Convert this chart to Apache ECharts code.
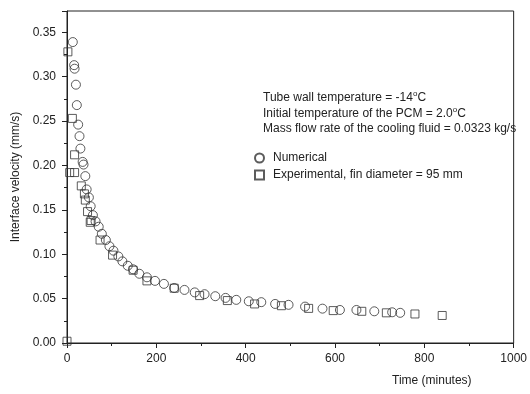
<!DOCTYPE html>
<html>
<head>
<meta charset="utf-8">
<script src="https://cdn.jsdelivr.net/npm/echarts@6/dist/echarts.min.js"></script>
<style>
  html, body { margin: 0; padding: 0; background: #fff; }
  #chart { width: 530px; height: 394px; }
</style>
</head>
<body>
<div id="chart"></div>
<script>
// Numerical results: [time (minutes), interface velocity (mm/s)]
const numericalTime = [13, 16, 17, 20, 22, 25, 28, 30, 35, 37, 41, 44, 49, 53, 58, 64, 71, 78, 87, 95,
  104, 115, 124, 136, 148, 162, 179, 197, 217, 240, 263, 286, 308, 332, 355, 379, 407, 435, 466, 496,
  533, 572, 611, 648, 688, 728, 746];
const numericalVelocity = [0.339, 0.313, 0.309, 0.291, 0.268, 0.246, 0.233, 0.219, 0.204, 0.201, 0.188, 0.173, 0.164, 0.154, 0.144, 0.137, 0.131, 0.123, 0.116, 0.109,
  0.104, 0.0975, 0.092, 0.087, 0.083, 0.078, 0.074, 0.070, 0.0666, 0.062, 0.0598, 0.057, 0.055, 0.0527, 0.0508, 0.0486, 0.047, 0.046, 0.044, 0.043,
  0.041, 0.0387, 0.0372, 0.0372, 0.0357, 0.0346, 0.034];

// Experimental results, fin diameter = 95 mm
const experimentalTime = [0, 2, 12, 17, 6, 17, 32, 39, 41, 46, 52, 54, 74, 102, 148, 179, 240, 297, 359, 420,
  480, 541, 596, 660, 715, 779, 840];
const experimentalVelocity = [0.002, 0.328, 0.253, 0.212, 0.192, 0.192, 0.177, 0.168, 0.161, 0.148, 0.136, 0.138, 0.116, 0.099, 0.082, 0.070, 0.0617, 0.0534, 0.0478, 0.044,
  0.042, 0.039, 0.0365, 0.0357, 0.034, 0.0327, 0.031];

const xTicks = [0, 200, 400, 600, 800, 1000];
const yTicks = [0, 0.05, 0.1, 0.15, 0.2, 0.25, 0.3, 0.35];

const notes = [
  "Tube wall temperature = -14{s|o}C",
  "Initial temperature of the PCM = 2.0{s|o}C",
  "Mass flow rate of the cooling fluid = 0.0323 kg/s",
];

const numericalData = numericalTime.map((t, i) => [t, numericalVelocity[i]]);
const experimentalData = experimentalTime.map((t, i) => [t, experimentalVelocity[i]]);

const chart = echarts.init(document.getElementById("chart"));
const textColor = "#222";
const font = "Liberation Sans, Arial, sans-serif";

const option = {
  animation: false,
  textStyle: { fontFamily: font },
  grid: {
    left: 67,
    right: 14,
    top: 11,
    bottom: 51,
    show: true,
    borderColor: "#222",
    borderWidth: 1,
  },
  legend: {
    orient: "vertical",
    left: 254,
    top: 152,
    padding: 0,
    itemWidth: 9,
    itemHeight: 9,
    itemGap: 5,
    textStyle: { fontSize: 12, color: textColor, fontFamily: font, padding: [0, 0, 0, 4] },
    data: [
      { name: "Numerical", icon: "circle" },
      { name: "Experimental, fin diameter = 95 mm", icon: "rect" },
    ],
  },
  xAxis: {
    type: "value",
    min: xTicks[0],
    max: xTicks[xTicks.length - 1],
    interval: 200,
    axisLine: { show: true, lineStyle: { color: "#222", width: 1 } },
    axisTick: { show: true, inside: false, length: 5, lineStyle: { color: "#222" } },
    minorTick: { show: true, splitNumber: 2, length: 3, lineStyle: { color: "#222" } },
    splitLine: { show: false },
    axisLabel: { color: textColor, fontSize: 12, margin: 10, formatter: (v) => String(v) },
  },
  yAxis: {
    type: "value",
    min: yTicks[0],
    max: 0.374,
    interval: 0.05,
    axisLine: { show: true, lineStyle: { color: "#222", width: 1 } },
    axisTick: { show: true, inside: false, length: 5, lineStyle: { color: "#222" } },
    minorTick: { show: true, splitNumber: 2, length: 3, lineStyle: { color: "#222" } },
    splitLine: { show: false },
    axisLabel: {
      color: textColor,
      fontSize: 12,
      margin: 11,
      showMaxLabel: false,
      formatter: (v) => v.toFixed(2),
    },
    name: "Interface velocity (mm/s)",
    nameLocation: "middle",
    nameGap: 44,
    nameTextStyle: { color: textColor, fontSize: 12, fontFamily: font },
  },
  graphic: [
    {
      type: "text",
      left: 392,
      top: 375,
      style: { text: "Time (minutes)", fill: textColor, font: "12px " + font },
    },
    {
      type: "text",
      left: 263,
      top: 90,
      style: {
        text: notes.join("\n"),
        fill: textColor,
        font: "12px " + font,
        lineHeight: 15.5,
        rich: {
          s: { fontSize: 8, verticalAlign: "top", padding: [0, 0, 6, 0], fill: textColor },
        },
      },
    },
  ],
  series: [
    {
      name: "Numerical",
      type: "scatter",
      symbol: "circle",
      symbolSize: 9,
      data: numericalData,
      itemStyle: { color: "rgba(255,255,255,0)", borderColor: "#333", borderWidth: 1 },
    },
    {
      name: "Experimental, fin diameter = 95 mm",
      type: "scatter",
      symbol: "rect",
      symbolSize: 8,
      data: experimentalData,
      itemStyle: { color: "rgba(255,255,255,0)", borderColor: "#333", borderWidth: 1 },
    },
  ],
};

chart.setOption(option);
</script>
</body>
</html>
